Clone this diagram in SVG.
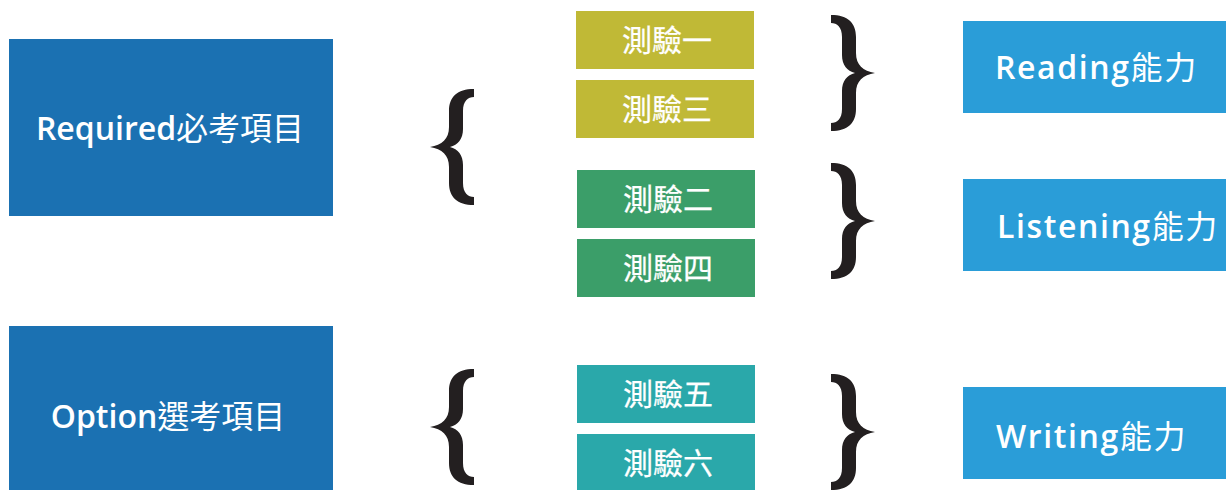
<svg xmlns="http://www.w3.org/2000/svg" xmlns:xlink="http://www.w3.org/1999/xlink" width="1226" height="490" viewBox="0 0 1226 490">
<style>
.cat{fill:#1B71B2}
.skill{fill:#2A9DD8}
.t1{fill:#C0B936}
.t2{fill:#3B9E69}
.t3{fill:#2AA8AA}
.brace{fill:#231F20}
text{fill:#FFFFFF;font-family:"Open Sans","Noto Sans CJK TC",sans-serif;font-weight:600}
.cjk{font-family:"Noto Sans CJK TC",sans-serif;font-weight:400}
.lbl{font-size:32px;text-anchor:middle}
.sk{font-size:32px;letter-spacing:1.6px}
.tst{font-size:30px;text-anchor:middle;font-family:"Noto Sans CJK TC",sans-serif;font-weight:400;stroke:#FFFFFF;stroke-width:0.25px}
</style>
<defs>
<path id="lb" d="M44 0 L44 8 C38 8 33 12 33 22 L33 40 C33 50 28 56 20 58 C28 60 33 66 33 76 L33 94 C33 104 38 108 44 108 L44 116 C27 116 19 108 19 94 L19 78 C19 66 12 60 0 58 C12 56 19 50 19 38 L19 22 C19 8 27 0 44 0 Z"/>
</defs>
<g id="required">
<rect class="cat" x="9" y="39" width="324" height="177"/>
<text class="lbl" x="170" y="140">Required<tspan class="cjk">必考項目</tspan></text>
</g>
<g id="option">
<rect class="cat" x="9" y="326" width="324" height="164"/>
<text class="lbl" x="168" y="428">Option<tspan class="cjk">選考項目</tspan></text>
</g>
<g id="test1">
<rect class="t1" x="576" y="11" width="178" height="58"/>
<text class="tst" x="667" y="51">測驗一</text>
</g>
<g id="test3">
<rect class="t1" x="576" y="80" width="178" height="58"/>
<text class="tst" x="667" y="120">測驗三</text>
</g>
<g id="test2">
<rect class="t2" x="577" y="170" width="178" height="58"/>
<text class="tst" x="668" y="210">測驗二</text>
</g>
<g id="test4">
<rect class="t2" x="577" y="239" width="178" height="58"/>
<text class="tst" x="668" y="279">測驗四</text>
</g>
<g id="test5">
<rect class="t3" x="577" y="365" width="178" height="58"/>
<text class="tst" x="668" y="405">測驗五</text>
</g>
<g id="test6">
<rect class="t3" x="577" y="434" width="178" height="58"/>
<text class="tst" x="668" y="474">測驗六</text>
</g>
<g id="reading">
<rect class="skill" x="963" y="21" width="263" height="92"/>
<text class="sk" x="995" y="79">Reading<tspan class="cjk">能力</tspan></text>
</g>
<g id="listening">
<rect class="skill" x="963" y="179" width="263" height="92"/>
<text class="sk" x="997" y="238">Listening<tspan class="cjk">能力</tspan></text>
</g>
<g id="writing">
<rect class="skill" x="963" y="387" width="263" height="92"/>
<text class="sk" x="996" y="448">Writing<tspan class="cjk">能力</tspan></text>
</g>
<g id="connectors">
<use class="brace" xlink:href="#lb" transform="translate(430,89)"/>
<use class="brace" xlink:href="#lb" transform="translate(430,369)"/>
<use class="brace" xlink:href="#lb" transform="translate(875,15) scale(-1,1)"/>
<use class="brace" xlink:href="#lb" transform="translate(875,163) scale(-1,1)"/>
<use class="brace" xlink:href="#lb" transform="translate(875,374) scale(-1,1)"/>
</g>
</svg>
